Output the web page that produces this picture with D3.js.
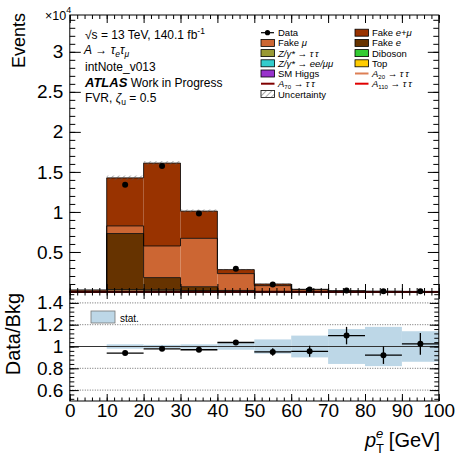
<!DOCTYPE html>
<html>
<head>
<meta charset="utf-8">
<script src="https://cdn.jsdelivr.net/npm/d3@7"></script>
<style>
body { margin: 0; background: #fff; }
svg { font-family: "Liberation Sans", Arial, Helvetica, sans-serif; }
</style>
</head>
<body>
<script>

// binning in pT(e) [GeV]
var edges = [0, 10, 20, 30, 40, 50, 60, 70, 80, 90, 100];

// backgrounds, events per bin (stack bottom -> top)
var higgs    = [0, 5, 5, 3, 2, 1, 1, 0, 0, 0];
var topq     = [2, 30, 50, 40, 25, 15, 10, 6, 5, 4];
var zEEMuMu  = [5, 40, 20, 10, 5, 2, 1, 1, 1, 0];
var diboson  = [5, 80, 120, 70, 40, 20, 12, 8, 5, 4];
var zTauTau  = [10, 150, 80, 40, 15, 6, 3, 2, 1, 1];
var fakeE    = [20, 7000, 1525, 500, 110, 50, 25, 15, 10, 8];
var fakeMu   = [180, 950, 3950, 6040, 2100, 700, 220, 90, 55, 45];
var fakeEMu  = [20, 6000, 10350, 3400, 500, 206, 68, 38, 23, 18];

// signals (not stacked)
var a20  = [60, 90, 50, 20, 8, 3, 1, 1, 0, 0];
var a70  = [5, 20, 30, 30, 20, 10, 5, 3, 2, 1];
var a110 = [2, 8, 12, 15, 14, 10, 6, 4, 3, 2];

// data
var data     = [null, 13400, 15750, 9800, 2900, 950, 325, 176, 92, 82];
var ratioErr = [null, 0.01, 0.01, 0.01, 0.02, 0.035, 0.05, 0.08, 0.08, 0.1];
var bkgStat  = [null, 0.02, 0.015, 0.02, 0.03, 0.065, 0.10, 0.16, 0.18, 0.14];

var yTicks = [5000, 10000, 15000, 20000, 25000, 30000];
var rTicks = [0.6, 0.8, 1, 1.2, 1.4];
var xTicks = [0, 10, 20, 30, 40, 50, 60, 70, 80, 90, 100];

var keys = ["higgs", "topq", "zEEMuMu", "diboson", "zTauTau", "fakeE", "fakeMu", "fakeEMu"];
var colors = {
  higgs: "#9933cc", topq: "#ffcc00", zEEMuMu: "#33cccc", diboson: "#33cc33",
  zTauTau: "#999933", fakeE: "#663300", fakeMu: "#cc6633", fakeEMu: "#993300"
};
var series = {higgs: higgs, topq: topq, zEEMuMu: zEEMuMu, diboson: diboson,
  zTauTau: zTauTau, fakeE: fakeE, fakeMu: fakeMu, fakeEMu: fakeEMu};

var rows = edges.slice(0, -1).map(function(e, i) {
  var r = {i: i, lo: e, hi: edges[i + 1]};
  keys.forEach(function(k) { r[k] = series[k][i]; });
  return r;
});
var stacked = d3.stack().keys(keys)(rows);
var total = rows.map(function(r) { return d3.sum(keys, function(k) { return r[k]; }); });

var svg = d3.select("body").append("svg")
    .attr("width", 457)
    .attr("height", 457);

var defs = svg.append("defs");
var pat = defs.append("pattern")
    .attr("id", "hatch")
    .attr("patternUnits", "userSpaceOnUse")
    .attr("width", 4).attr("height", 4)
    .attr("patternTransform", "rotate(45)");
pat.append("line")
    .attr("x1", 0).attr("y1", 0).attr("x2", 0).attr("y2", 4)
    .attr("stroke", "#555").attr("stroke-width", 1);

var x = d3.scaleLinear().domain([0, 100]).range([69.8, 438.8]);
var y = d3.scaleLinear().domain([0, 34600]).range([292, 15]);
var yr = d3.scaleLinear().domain([0.5, 1.5]).range([401, 292]);

// ---------- main panel ----------
var main = svg.append("g");

stacked.forEach(function(s) {
  main.selectAll(null)
    .data(s)
    .enter().append("rect")
      .attr("x", function(d) { return x(d.data.lo); })
      .attr("width", function(d) { return x(d.data.hi) - x(d.data.lo); })
      .attr("y", function(d) { return y(d[1]); })
      .attr("height", function(d) { return y(d[0]) - y(d[1]); })
      .attr("fill", colors[s.key]);
});

var step = d3.line()
    .x(function(d) { return x(d[0]); })
    .y(function(d) { return y(d[1]); })
    .curve(d3.curveStepAfter);

function stepPts(vals) {
  var p = vals.map(function(v, i) { return [edges[i], v]; });
  p.push([100, vals[vals.length - 1]]);
  return p;
}

stacked.forEach(function(s) {
  main.append("path")
    .attr("d", step(stepPts(s.map(function(d) { return d[1]; }))))
    .attr("fill", "none")
    .attr("stroke", "#000")
    .attr("stroke-width", 0.8);
});

// uncertainty band
main.selectAll(".unc")
  .data(rows.filter(function(r) { return bkgStat[r.i] != null; }))
  .enter().append("rect")
    .attr("class", "unc")
    .attr("x", function(d) { return x(d.lo); })
    .attr("width", function(d) { return x(d.hi) - x(d.lo); })
    .attr("y", function(d) { return y(total[d.i] * (1 + bkgStat[d.i])); })
    .attr("height", function(d) { return y(total[d.i] * (1 - bkgStat[d.i])) - y(total[d.i] * (1 + bkgStat[d.i])); })
    .attr("fill", "url(#hatch)");

// signal lines
[[a20, "#dd7f55"], [a70, "#800000"], [a110, "#e00000"]].forEach(function(s) {
  main.append("path")
    .attr("d", step(stepPts(s[0])))
    .attr("fill", "none")
    .attr("stroke", s[1])
    .attr("stroke-width", 1.5);
});

// data points
main.selectAll(".dot")
  .data(rows.filter(function(r) { return data[r.i] != null; }))
  .enter().append("circle")
    .attr("class", "dot")
    .attr("cx", function(d) { return x((d.lo + d.hi) / 2); })
    .attr("cy", function(d) { return y(data[d.i]); })
    .attr("r", 3)
    .attr("fill", "#000");

// ---------- ratio panel ----------
var rat = svg.append("g");

rat.selectAll(".band")
  .data(rows.filter(function(r) { return bkgStat[r.i] != null; }))
  .enter().append("rect")
    .attr("class", "band")
    .attr("x", function(d) { return x(d.lo); })
    .attr("width", function(d) { return x(d.hi) - x(d.lo); })
    .attr("y", function(d) { return yr(1 + bkgStat[d.i]); })
    .attr("height", function(d) { return yr(1 - bkgStat[d.i]) - yr(1 + bkgStat[d.i]); })
    .attr("fill", "#bdd7e7");

rat.selectAll(".grid")
  .data([0.6, 0.8, 1.2, 1.4])
  .enter().append("line")
    .attr("x1", x(0)).attr("x2", x(100))
    .attr("y1", function(d) { return yr(d); })
    .attr("y2", function(d) { return yr(d); })
    .attr("stroke", "#444")
    .attr("stroke-width", 0.8)
    .attr("stroke-dasharray", "1,1.5");

rat.append("line")
    .attr("x1", x(0)).attr("x2", x(100))
    .attr("y1", yr(1)).attr("y2", yr(1))
    .attr("stroke", "#333")
    .attr("stroke-width", 1);

var rpts = rows.filter(function(r) { return data[r.i] != null; });
var rp = rat.selectAll(".rp").data(rpts).enter().append("g");
rp.append("line")
    .attr("x1", function(d) { return x(d.lo); })
    .attr("x2", function(d) { return x(d.hi); })
    .attr("y1", function(d) { return yr(data[d.i] / total[d.i]); })
    .attr("y2", function(d) { return yr(data[d.i] / total[d.i]); })
    .attr("stroke", "#000").attr("stroke-width", 1.3);
rp.append("line")
    .attr("x1", function(d) { return x((d.lo + d.hi) / 2); })
    .attr("x2", function(d) { return x((d.lo + d.hi) / 2); })
    .attr("y1", function(d) { return yr(data[d.i] / total[d.i] + ratioErr[d.i]); })
    .attr("y2", function(d) { return yr(data[d.i] / total[d.i] - ratioErr[d.i]); })
    .attr("stroke", "#000").attr("stroke-width", 1.3);
rp.append("circle")
    .attr("cx", function(d) { return x((d.lo + d.hi) / 2); })
    .attr("cy", function(d) { return yr(data[d.i] / total[d.i]); })
    .attr("r", 3)
    .attr("fill", "#000");

// ---------- axes ----------
function styleAxis(g) {
  g.select(".domain").remove();
  g.selectAll("line").attr("stroke", "#000").attr("stroke-width", 1);
  g.attr("font-family", null).attr("font-size", 19);
  g.selectAll("text").attr("fill", "#000");
}
function addAxis(axis, tx, ty) {
  svg.append("g").attr("transform", "translate(" + tx + "," + ty + ")").call(axis).call(styleAxis);
}
var none = function() { return ""; };
var plain = function(d) { return String(+d.toFixed(4)); };

// main x (top/bottom), no labels
addAxis(d3.axisBottom(x).tickValues(xTicks).tickSizeInner(-8).tickSizeOuter(0).tickFormat(none), 0, 292);
addAxis(d3.axisBottom(x).tickValues(d3.range(0, 101, 2)).tickSizeInner(-4).tickSizeOuter(0).tickFormat(none), 0, 292);
addAxis(d3.axisTop(x).tickValues(xTicks).tickSizeInner(-8).tickSizeOuter(0).tickFormat(none), 0, 15);
addAxis(d3.axisTop(x).tickValues(d3.range(0, 101, 2)).tickSizeInner(-4).tickSizeOuter(0).tickFormat(none), 0, 15);
// main y
addAxis(d3.axisLeft(y).tickValues(yTicks).tickSizeInner(-11).tickSizeOuter(0).tickPadding(6.5)
  .tickFormat(function(d) { return plain(d / 10000); }), x(0), 0);
addAxis(d3.axisLeft(y).tickValues(d3.range(1000, 34600, 1000)).tickSizeInner(-5.5).tickSizeOuter(0).tickFormat(none), x(0), 0);
addAxis(d3.axisRight(y).tickValues(yTicks).tickSizeInner(-11).tickSizeOuter(0).tickFormat(none), x(100), 0);
addAxis(d3.axisRight(y).tickValues(d3.range(1000, 34600, 1000)).tickSizeInner(-5.5).tickSizeOuter(0).tickFormat(none), x(100), 0);

// ratio x
addAxis(d3.axisBottom(x).tickValues(xTicks).tickSizeInner(-7).tickSizeOuter(0).tickPadding(2).tickFormat(plain), 0, 401);
addAxis(d3.axisBottom(x).tickValues(d3.range(0, 101, 2)).tickSizeInner(-3.5).tickSizeOuter(0).tickFormat(none), 0, 401);
addAxis(d3.axisTop(x).tickValues(xTicks).tickSizeInner(-7).tickSizeOuter(0).tickFormat(none), 0, 292);
addAxis(d3.axisTop(x).tickValues(d3.range(0, 101, 2)).tickSizeInner(-3.5).tickSizeOuter(0).tickFormat(none), 0, 292);
// ratio y
addAxis(d3.axisLeft(yr).tickValues(rTicks).tickSizeInner(-9).tickSizeOuter(0).tickPadding(6.5).tickFormat(plain), x(0), 0);
addAxis(d3.axisLeft(yr).tickValues(d3.range(0.52, 1.5, 0.04)).tickSizeInner(-4.5).tickSizeOuter(0).tickFormat(none), x(0), 0);
addAxis(d3.axisRight(yr).tickValues(rTicks).tickSizeInner(-9).tickSizeOuter(0).tickFormat(none), x(100), 0);
addAxis(d3.axisRight(yr).tickValues(d3.range(0.52, 1.5, 0.04)).tickSizeInner(-4.5).tickSizeOuter(0).tickFormat(none), x(100), 0);

// frames
svg.append("rect").attr("x", x(0)).attr("y", 15).attr("width", x(100) - x(0)).attr("height", 292 - 15)
  .attr("fill", "none").attr("stroke", "#000").attr("stroke-width", 1);
svg.append("rect").attr("x", x(0)).attr("y", 292).attr("width", x(100) - x(0)).attr("height", 401 - 292)
  .attr("fill", "none").attr("stroke", "#000").attr("stroke-width", 1);

// axis titles
svg.append("text")
    .attr("transform", "translate(25,13) rotate(-90)")
    .attr("text-anchor", "end")
    .attr("font-size", 18)
    .text("Events");
svg.append("text")
    .attr("transform", "translate(20,293) rotate(-90)")
    .attr("text-anchor", "end")
    .attr("font-size", 20)
    .text("Data/Bkg");

var xt = svg.append("text")
    .attr("x", 440).attr("y", 447)
    .attr("text-anchor", "end")
    .attr("font-size", 20);
xt.append("tspan").attr("font-style", "italic").text("p");
xt.append("tspan").attr("font-size", 13).attr("dy", 6).text("T");
xt.append("tspan").attr("font-size", 13).attr("font-style", "italic").attr("dx", -8).attr("dy", -15).text("e");
xt.append("tspan").attr("dy", 9).text(" [GeV]");

var ex = svg.append("text").attr("x", 45).attr("y", 20).attr("font-size", 12.5);
ex.append("tspan").text("\u00d710");
ex.append("tspan").attr("font-size", 9).attr("dy", -7).text("4");

// ---------- annotation ----------
var info = svg.append("g").attr("font-size", 12);
var t1 = info.append("text").attr("x", 85).attr("y", 38.5);
t1.append("tspan").text("\u221as = 13 TeV, 140.1 fb");
t1.append("tspan").attr("font-size", 8.5).attr("dy", -5).text("-1");

var t2 = info.append("text").attr("x", 84).attr("y", 54);
t2.append("tspan").attr("font-style", "italic").text("A");
t2.append("tspan").text(" \u2192 ");
t2.append("tspan").attr("font-style", "italic").text("\u03c4");
t2.append("tspan").attr("font-style", "italic").attr("font-size", 8.5).attr("dy", 3).text("e");
t2.append("tspan").attr("font-style", "italic").attr("dy", -3).text("\u03c4");
t2.append("tspan").attr("font-style", "italic").attr("font-size", 8.5).attr("dy", 3).text("\u03bc");

info.append("text").attr("x", 85).attr("y", 70.5).text("intNote_v013");

var t4 = info.append("text").attr("x", 85).attr("y", 87);
t4.append("tspan").attr("font-weight", "bold").attr("font-style", "italic").attr("font-size", 13).text("ATLAS");
t4.append("tspan").text(" Work in Progress");

var t5 = info.append("text").attr("x", 85).attr("y", 102);
t5.append("tspan").text("FVR, ");
t5.append("tspan").attr("font-style", "italic").text("\u03b6");
t5.append("tspan").attr("font-size", 8.5).attr("dy", 3).text("u");
t5.append("tspan").attr("dy", -3).text(" = 0.5");

// ---------- legend ----------
var leg = svg.append("g").attr("font-size", 9.5);
var rowY = [32.7, 42.9, 53.1, 63.3, 73.5, 83.7, 93.9];

// parts: [text, italic, subscript?]
function legText(g, lx, ly, parts) {
  var t = g.append("text").attr("x", lx).attr("y", ly + 3.4);
  var wasSub = false;
  parts.forEach(function(p) {
    var s = t.append("tspan").text(p[0]);
    if (p[1]) s.attr("font-style", "italic");
    if (p[2]) { s.attr("font-size", 6).attr("dy", 2); wasSub = true; }
    else if (wasSub) { s.attr("dy", -2); wasSub = false; }
  });
}
function legBox(lx, ly, fill) {
  leg.append("rect").attr("x", lx).attr("y", ly - 3.5).attr("width", 13.5).attr("height", 7)
    .attr("fill", fill).attr("stroke", "#000").attr("stroke-width", 0.8);
}
function legLine(lx, ly, col) {
  leg.append("line").attr("x1", lx).attr("x2", lx + 13.5).attr("y1", ly).attr("y2", ly)
    .attr("stroke", col).attr("stroke-width", 2);
}

var tau2 = " \u2192 \u03c4\u2009\u03c4";
var lx1 = 261, tx1 = 278, lx2 = 355, tx2 = 372;
// left column
leg.append("line").attr("x1", lx1).attr("x2", lx1 + 13).attr("y1", rowY[0]).attr("y2", rowY[0])
  .attr("stroke", "#000").attr("stroke-width", 1.2);
leg.append("circle").attr("cx", lx1 + 6.5).attr("cy", rowY[0]).attr("r", 2.6).attr("fill", "#000");
legText(leg, tx1, rowY[0], [["Data"]]);
legBox(lx1, rowY[1], colors.fakeMu);
legText(leg, tx1, rowY[1], [["Fake "], ["\u03bc", 1]]);
legBox(lx1, rowY[2], colors.zTauTau);
legText(leg, tx1, rowY[2], [["Z/\u03b3*" + tau2, 1]]);
legBox(lx1, rowY[3], colors.zEEMuMu);
legText(leg, tx1, rowY[3], [["Z/\u03b3* \u2192 ee/\u03bc\u03bc", 1]]);
legBox(lx1, rowY[4], colors.higgs);
legText(leg, tx1, rowY[4], [["SM Higgs"]]);
legLine(lx1, rowY[5], "#800000");
legText(leg, tx1, rowY[5], [["A", 1], ["70", 0, 1], [tau2, 1]]);
leg.append("rect").attr("x", lx1).attr("y", rowY[6] - 3.5).attr("width", 13.5).attr("height", 7)
  .attr("fill", "#fff").attr("stroke", "#000").attr("stroke-width", 0.8);
leg.append("rect").attr("x", lx1).attr("y", rowY[6] - 3.5).attr("width", 13.5).attr("height", 7)
  .attr("fill", "url(#hatch)");
legText(leg, tx1, rowY[6] + 0.5, [["Uncertainty"]]);
// right column
legBox(lx2, rowY[0], colors.fakeEMu);
legText(leg, tx2, rowY[0], [["Fake "], ["e+\u03bc", 1]]);
legBox(lx2, rowY[1], colors.fakeE);
legText(leg, tx2, rowY[1], [["Fake "], ["e", 1]]);
legBox(lx2, rowY[2], colors.diboson);
legText(leg, tx2, rowY[2], [["Diboson"]]);
legBox(lx2, rowY[3], colors.topq);
legText(leg, tx2, rowY[3], [["Top"]]);
legLine(lx2, rowY[4], "#dd7f55");
legText(leg, tx2, rowY[4], [["A", 1], ["20", 0, 1], [tau2, 1]]);
legLine(lx2, rowY[5], "#e00000");
legText(leg, tx2, rowY[5], [["A", 1], ["110", 0, 1], [tau2, 1]]);

// ratio legend
svg.append("rect").attr("x", 91).attr("y", 311).attr("width", 24).attr("height", 12)
  .attr("fill", "#bdd7e7").attr("stroke", "#777").attr("stroke-width", 0.8);
svg.append("text").attr("x", 120).attr("y", 321.5).attr("font-size", 10).text("stat.");

</script>
</body>
</html>
